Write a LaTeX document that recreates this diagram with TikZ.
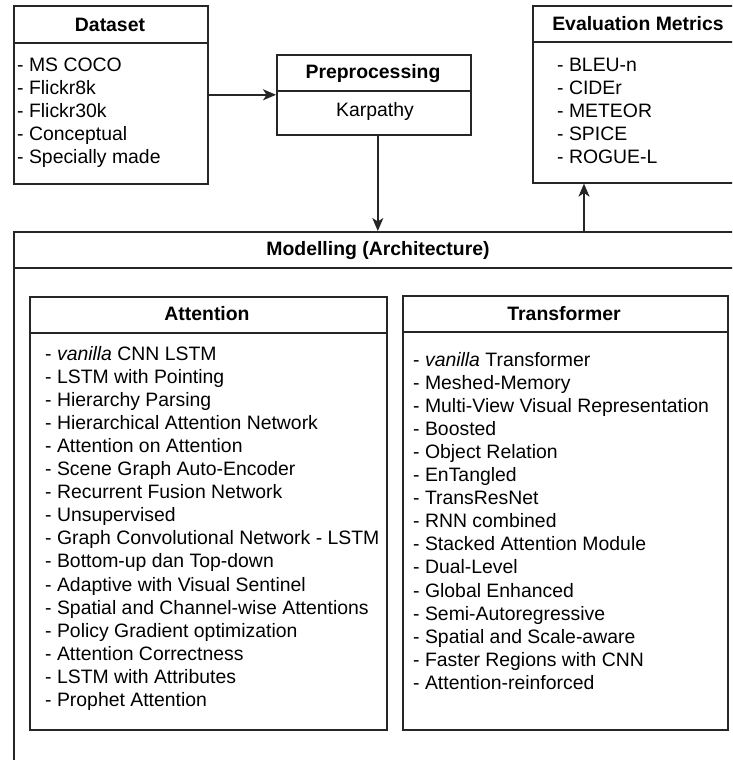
\documentclass[tikz,border=0pt]{standalone}
\usepackage{fontspec}
\setmainfont{Liberation Sans}
\usetikzlibrary{arrows.meta,calc}
\begin{document}
\begin{tikzpicture}[x=1pt,y=-1pt,
  box/.style={draw=black!85, line width=1.6pt, rectangle, inner sep=0pt, anchor=north west, fill=white},
  hdr/.style={draw=black!85, line width=1.6pt},
  ttl/.style={font=\bfseries\fontsize{19.4}{23}\selectfont, anchor=base, inner sep=0pt},
  itm/.style={font=\fontsize{19.4}{23}\selectfont, anchor=base west, inner sep=0pt},
  arr/.style={draw=black!85, line width=1.6pt, -{Stealth[length=13pt,width=11pt,inset=3.5pt]}}]
\useasboundingbox (0,0) rectangle (732,760);
\clip (0,0) rectangle (732,760);
\fill[white] (0,0) rectangle (732,760);

% Dataset
\node[box, minimum width=194pt, minimum height=178pt] (ds) at (13,5) {};
\draw[hdr] (ds.north west) ++(0,38) -- ++(194,0);
\node[ttl] (dsT) at (110,31.5) {Dataset};
\foreach \t [count=\i from 0] in {MS COCO, Flickr8k, Flickr30k, Conceptual, Specially made}
  \node[itm] (ds\i) at (17,{71.5+23.1*\i}) {- \t};

% Preprocessing
\node[box, minimum width=194pt, minimum height=80pt] (pp) at (276,54) {};
\draw[hdr] (pp.north west) ++(0,37) -- ++(194,0);
\node[ttl] (ppT) at (373,78.5) {Preprocessing};
\node[itm, anchor=base] (ppK) at (375,116) {Karpathy};

% Evaluation Metrics
\node[box, minimum width=212pt, minimum height=177pt] (ev) at (532,5) {};
\draw[hdr] (ev.north west) ++(0,37) -- ++(212,0);
\node[ttl] (evT) at (638,30.5) {Evaluation Metrics};
\foreach \t [count=\i from 0] in {BLEU-n, CIDEr, METEOR, SPICE, ROGUE-L}
  \node[itm] (ev\i) at (557,{71+23.1*\i}) {- \t};

% Modelling
\node[box, minimum width=731pt, minimum height=600pt] (mod) at (13,231) {};
\draw[hdr] (mod.north west) ++(0,37) -- ++(731,0);
\node[ttl] (modT) at (378,255.5) {Modelling (Architecture)};

% Attention
\node[box, minimum width=357pt, minimum height=433pt] (att) at (29,296) {};
\draw[hdr] (att.north west) ++(0,37) -- ++(357,0);
\node[ttl] (attT) at (207,320.5) {Attention};
\foreach \t [count=\i from 0] in {\textit{vanilla} CNN LSTM, LSTM with Pointing, Hierarchy Parsing,
  Hierarchical Attention Network, Attention on Attention, Scene Graph Auto-Encoder,
  Recurrent Fusion Network, Unsupervised, Graph Convolutional Network - LSTM,
  Bottom-up dan Top-down, Adaptive with Visual Sentinel, Spatial and Channel-wise Attentions,
  Policy Gradient optimization, Attention Correctness, LSTM with Attributes, Prophet Attention}
  \node[itm] (att\i) at (45,{360+23.1*\i}) {- \t};

% Transformer
\node[box, minimum width=325pt, minimum height=434pt] (tr) at (402,295) {};
\draw[hdr] (tr.north west) ++(0,37) -- ++(325,0);
\node[ttl] (trT) at (564,320) {Transformer};
\foreach \t [count=\i from 0] in {\textit{vanilla} Transformer, Meshed-Memory,
  Multi-View Visual Representation, Boosted, Object Relation, EnTangled, TransResNet,
  RNN combined, Stacked Attention Module, Dual-Level, Global Enhanced, Semi-Autoregressive,
  Spatial and Scale-aware, Faster Regions with CNN, Attention-reinforced}
  \node[itm] (tr\i) at (413,{366+23.1*\i}) {- \t};

% Connectors
\draw[arr] (ds) -- (pp);
\coordinate (a1) at ($(pp.south)+(4,0)$);
\draw[arr] (a1) -- (a1 |- mod.north);
\coordinate (e1) at ($(ev.south west)+(52,0)$);
\draw[arr] (e1 |- mod.north) -- (e1);
\end{tikzpicture}
\end{document}
